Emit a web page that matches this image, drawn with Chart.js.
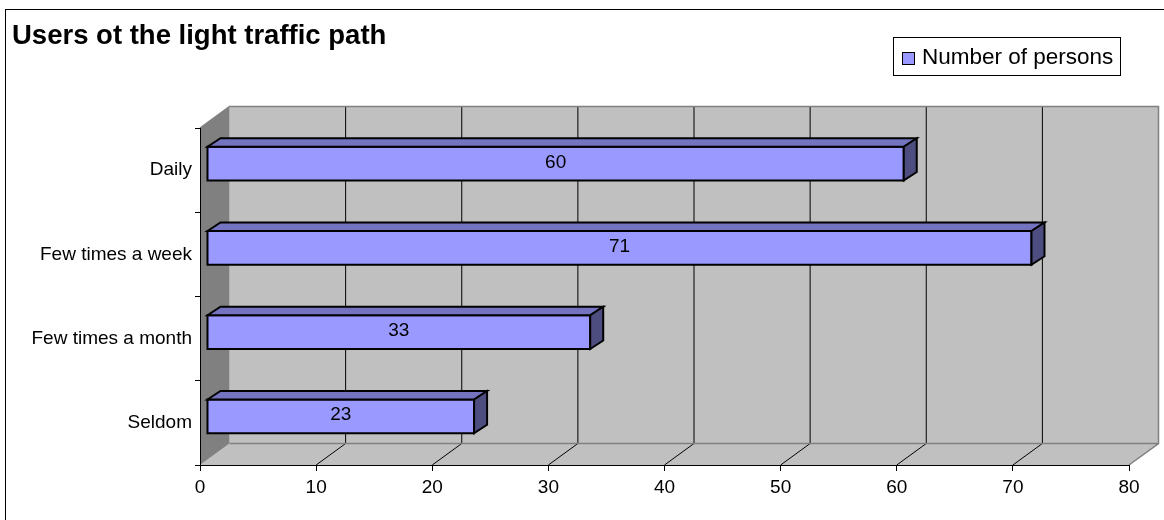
<!DOCTYPE html>
<html>
<head>
<meta charset="utf-8">
<script src="https://cdn.jsdelivr.net/npm/chart.js@4.4.0/dist/chart.umd.min.js"></script>
<style>
  html, body { margin: 0; padding: 0; background: #fff; }
  canvas { display: block; }
</style>
</head>
<body>
<canvas id="grafico" width="1164" height="520"></canvas>
<script>
const titulo = 'Users ot the light traffic path';
const serieNome = 'Number of persons';
const categorias = ['Daily', 'Few times a week', 'Few times a month', 'Seldom'];
const valores = [60, 71, 33, 23];
const eixoMin = 0;
const eixoMax = 80;
const eixoPasso = 10;

const fonte = '"Liberation Sans", Arial, sans-serif';

// profundidade das paredes e das barras (efeito 3D do Excel)
const paredeDx = 29.5, paredeDy = -21.5;
const barraFrenteDx = 7, barraFrenteDy = -6.5;
const barraDx = 13, barraDy = -8.5;

const fundo3d = {
    id: 'fundo3d',
    beforeDraw(chart) {
        const ctx = chart.ctx;
        const a = chart.chartArea;
        const xs = chart.scales.x;
        ctx.save();
        // moldura externa
        ctx.strokeStyle = '#000';
        ctx.lineWidth = 1;
        ctx.strokeRect(5.5, 9.5, 1200, 600);

        // parede do fundo
        ctx.fillStyle = '#C0C0C0';
        ctx.fillRect(a.left + paredeDx, a.top + paredeDy, a.right - a.left, a.bottom - a.top);

        // piso
        ctx.beginPath();
        ctx.moveTo(a.left, a.bottom);
        ctx.lineTo(a.right, a.bottom);
        ctx.lineTo(a.right + paredeDx, a.bottom + paredeDy);
        ctx.lineTo(a.left + paredeDx, a.bottom + paredeDy);
        ctx.closePath();
        ctx.fillStyle = '#C0C0C0';
        ctx.fill();

        // parede lateral
        ctx.beginPath();
        ctx.moveTo(a.left, a.top);
        ctx.lineTo(a.left + paredeDx, a.top + paredeDy);
        ctx.lineTo(a.left + paredeDx, a.bottom + paredeDy);
        ctx.lineTo(a.left, a.bottom);
        ctx.closePath();
        ctx.fillStyle = '#808080';
        ctx.fill();

        // linhas de grade na parede e no piso
        ctx.strokeStyle = '#000';
        ctx.lineWidth = 1;
        xs.ticks.forEach(t => {
            if (t.value <= eixoMin || t.value >= eixoMax) return;
            const px = xs.getPixelForValue(t.value);
            ctx.beginPath();
            ctx.moveTo(px + paredeDx, a.top + paredeDy);
            ctx.lineTo(px + paredeDx, a.bottom + paredeDy);
            ctx.moveTo(px, a.bottom);
            ctx.lineTo(px + paredeDx, a.bottom + paredeDy);
            ctx.stroke();
        });

        // bordas das paredes
        ctx.strokeStyle = '#808080';
        ctx.lineWidth = 1.5;
        ctx.beginPath();
        ctx.moveTo(a.left, a.top);
        ctx.lineTo(a.left + paredeDx, a.top + paredeDy);
        ctx.lineTo(a.right + paredeDx, a.top + paredeDy);
        ctx.lineTo(a.right + paredeDx, a.bottom + paredeDy);
        ctx.lineTo(a.right, a.bottom);
        ctx.moveTo(a.left + paredeDx, a.bottom + paredeDy);
        ctx.lineTo(a.right + paredeDx, a.bottom + paredeDy);
        ctx.stroke();
        ctx.restore();
    },
    beforeDatasetDraw() {
        return false;
    },
    afterDatasetsDraw(chart) {
        const ctx = chart.ctx;
        const meta = chart.getDatasetMeta(0);
        const ds = chart.data.datasets[0];
        ctx.save();
        ctx.lineWidth = 2;
        ctx.strokeStyle = '#000';
        ctx.lineJoin = 'miter';
        meta.data.forEach((el, i) => {
            const p = el.getProps(['x', 'y', 'base', 'height'], true);
            const x0 = p.base + barraFrenteDx;
            const x1 = p.x + barraFrenteDx;
            const y0 = p.y - p.height / 2 + barraFrenteDy;
            const y1 = p.y + p.height / 2 + barraFrenteDy;

            // face frontal
            ctx.fillStyle = ds.backgroundColor;
            ctx.beginPath();
            ctx.rect(x0, y0, x1 - x0, y1 - y0);
            ctx.fill();
            ctx.stroke();

            // topo
            ctx.fillStyle = '#7373BF';
            ctx.beginPath();
            ctx.moveTo(x0, y0);
            ctx.lineTo(x0 + barraDx, y0 + barraDy);
            ctx.lineTo(x1 + barraDx, y0 + barraDy);
            ctx.lineTo(x1, y0);
            ctx.closePath();
            ctx.fill();
            ctx.stroke();

            // lateral
            ctx.fillStyle = '#4D4D80';
            ctx.beginPath();
            ctx.moveTo(x1, y0);
            ctx.lineTo(x1 + barraDx, y0 + barraDy);
            ctx.lineTo(x1 + barraDx, y1 + barraDy);
            ctx.lineTo(x1, y1);
            ctx.closePath();
            ctx.fill();
            ctx.stroke();

            // rótulo do valor
            ctx.fillStyle = '#000';
            ctx.font = '19px ' + fonte;
            ctx.textAlign = 'center';
            ctx.textBaseline = 'alphabetic';
            ctx.fillText(String(ds.data[i]), (x0 + x1) / 2, (y0 + y1) / 2 + 4);
        });
        ctx.restore();
    },
    afterDraw(chart) {
        const ctx = chart.ctx;
        const ds = chart.data.datasets[0];
        ctx.save();
        // título
        ctx.fillStyle = '#000';
        ctx.font = 'bold 27.5px ' + fonte;
        ctx.textAlign = 'left';
        ctx.textBaseline = 'alphabetic';
        ctx.fillText(titulo, 12, 44);

        // legenda
        ctx.strokeStyle = '#000';
        ctx.lineWidth = 1;
        ctx.fillStyle = '#fff';
        ctx.fillRect(893.5, 37.5, 227, 38);
        ctx.strokeRect(893.5, 37.5, 227, 38);
        ctx.fillStyle = ds.backgroundColor;
        ctx.fillRect(902.5, 52.5, 12, 12);
        ctx.strokeRect(902.5, 52.5, 12, 12);
        ctx.fillStyle = '#000';
        ctx.font = '22.5px ' + fonte;
        ctx.fillText(ds.label, 922, 64);
        ctx.restore();
    }
};

const ctx = document.getElementById('grafico').getContext('2d');
const chart = new Chart(ctx, {
    type: 'bar',
    data: {
        labels: categorias,
        datasets: [{
            label: serieNome,
            data: valores,
            backgroundColor: '#9999FF',
            borderColor: '#000',
            barPercentage: 0.4,
            categoryPercentage: 1
        }]
    },
    options: {
        indexAxis: 'y',
        responsive: false,
        animation: false,
        devicePixelRatio: 1,
        layout: {
            padding: { top: 128, right: 35, bottom: 0, left: 0 }
        },
        plugins: {
            legend: { display: false },
            title: { display: false },
            tooltip: { enabled: false }
        },
        scales: {
            x: {
                min: eixoMin,
                max: eixoMax,
                ticks: {
                    stepSize: eixoPasso,
                    color: '#000',
                    font: { family: fonte, size: 19 },
                    padding: 5,
                    maxRotation: 0
                },
                grid: {
                    drawOnChartArea: false,
                    drawTicks: true,
                    tickLength: 6,
                    color: '#000'
                },
                border: { color: '#000', width: 1 },
                afterFit: s => { s.height = 55; }
            },
            y: {
                ticks: {
                    color: '#000',
                    font: { family: fonte, size: 19 },
                    padding: 3
                },
                grid: {
                    drawOnChartArea: false,
                    drawTicks: true,
                    tickLength: 5,
                    offset: true,
                    color: '#000'
                },
                border: { color: '#000', width: 1 },
                afterFit: s => { s.width = 200; }
            }
        }
    },
    plugins: [fundo3d]
});
</script>
</body>
</html>
